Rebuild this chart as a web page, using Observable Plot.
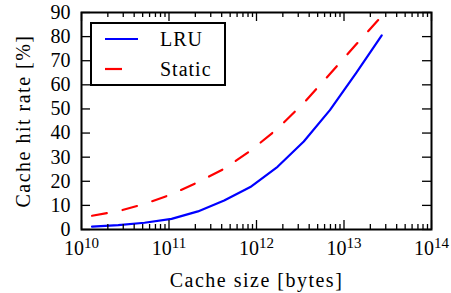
<!DOCTYPE html>
<html><head><meta charset="utf-8">
<script src="https://cdn.jsdelivr.net/npm/d3@7"></script>
<script src="https://cdn.jsdelivr.net/npm/@observablehq/plot@0.6"></script>
</head><body style="margin:0">
<div id="p"></div>
<script>
// ---- data ----
const cacheSize = [1.32e10, 2.63e10, 5.25e10, 1.07e11, 2.14e11, 4.27e11, 8.5e11, 1.74e12, 3.47e12, 6.9e12, 1.38e13, 2.7e13];
const lruRate = [1.2, 1.8, 2.8, 4.4, 7.5, 12.0, 17.6, 26.0, 36.5, 49.5, 65.0, 80.5];
const staticRate = [5.7, 7.6, 10.6, 14.6, 19.6, 25.2, 32.6, 41.8, 52.5, 64.5, 76.8, 88.5];
const seriesNames = ["LRU", "Static"];
const seriesColors = ["#0000ff", "#ff0000"];
const xMajorTicks = [1e10, 1e11, 1e12, 1e13, 1e14];
const xTickExponents = ["10", "11", "12", "13", "14"];
const yTicks = [0, 10, 20, 30, 40, 50, 60, 70, 80, 90];
const xLabel = "Cache size [bytes]";
const yLabel = "Cache hit rate [%]";

// minor log ticks (2..9 × each decade)
const xMinorTicks = [];
for (let i = 0; i < xMajorTicks.length - 1; i++) for (let m = 2; m <= 9; m++) xMinorTicks.push(xMajorTicks[i] * m);

const lruRows = cacheSize.map((s, i) => ({size: s, rate: lruRate[i]}));
const staticRows = cacheSize.map((s, i) => ({size: s, rate: staticRate[i]}));

const W0 = 451, H0 = 293;
const mL = 81, mR = 20, mT = 12, mB = 64;
const W = W0 - mL - mR, H = H0 - mT - mB;

const chart = Plot.plot({
  width: W0, height: H0,
  marginLeft: mL, marginRight: mR, marginTop: mT, marginBottom: mB,
  style: {fontFamily: "'Liberation Serif', serif", fontSize: "20px"},
  x: {type: "log", domain: [1e10, 1e14]},
  y: {domain: [0, 90]},
  marks: [
    Plot.line(lruRows, {x: "size", y: "rate", stroke: seriesColors[0], strokeWidth: 2.2}),
    Plot.line(staticRows, {x: "size", y: "rate", stroke: seriesColors[1], strokeWidth: 2.2, strokeDasharray: "15,16"}),
    Plot.ruleX(xMajorTicks, {x: d => d, insetTop: H - 9, stroke: "black", strokeWidth: 1.3}),
    Plot.ruleX(xMajorTicks, {x: d => d, insetBottom: H - 9, stroke: "black", strokeWidth: 1.3}),
    Plot.ruleX(xMinorTicks, {x: d => d, insetTop: H - 5, stroke: "black", strokeWidth: 1.3}),
    Plot.ruleX(xMinorTicks, {x: d => d, insetBottom: H - 5, stroke: "black", strokeWidth: 1.3}),
    Plot.ruleY(yTicks, {y: d => d, insetRight: W - 9, stroke: "black", strokeWidth: 1.3}),
    Plot.ruleY(yTicks, {y: d => d, insetLeft: W - 9, stroke: "black", strokeWidth: 1.3}),
    Plot.frame({stroke: "black", strokeWidth: 2}),
    Plot.axisX(xMajorTicks, {tickSize: 0, tickPadding: 11, label: null,
      tickFormat: d => xTickExponents[xMajorTicks.indexOf(d)]}),
    Plot.axisY(yTicks, {tickSize: 0, tickPadding: 11, label: null}),
    Plot.text([xLabel], {frameAnchor: "bottom", dy: 51, text: d => d, textAnchor: "middle", lineAnchor: "middle"}),
    Plot.text([yLabel], {frameAnchor: "left", dx: -58, rotate: -90, text: d => d, textAnchor: "middle", lineAnchor: "middle"})
  ]
});

// turn x tick labels into 10^n with a real superscript
d3.select(chart).selectAll('g[aria-label="x-axis tick label"] text').each(function () {
  const exp = this.textContent;
  const t = d3.select(this);
  t.text("10");
  t.append("tspan").attr("dy", "-0.45em").attr("font-size", 15).text(exp);
});
// axis titles a little wider, as in the reference's typesetting
d3.select(chart).selectAll('g[aria-label="text"] text').style("letter-spacing", "1.5px");

// legend box drawn inside the same SVG (upper-left of the frame)
const leg = d3.select(chart).append("g").attr("aria-label", "legend");
leg.append("rect").attr("x", 91).attr("y", 23).attr("width", 134).attr("height", 62)
  .attr("fill", "white").attr("stroke", "black").attr("stroke-width", 2);
const rowsY = [39, 69];
seriesNames.forEach((name, i) => {
  leg.append("line").attr("x1", 105).attr("x2", i === 0 ? 138 : 122).attr("y1", rowsY[i]).attr("y2", rowsY[i])
    .attr("stroke", seriesColors[i]).attr("stroke-width", 2.2);
  leg.append("text").attr("x", 160).attr("y", rowsY[i]).attr("dy", "0.36em").attr("text-anchor", "start")
    .attr("fill", "black").style("letter-spacing", "1px").text(name);
});

document.getElementById("p").appendChild(chart);
</script>
</body></html>
